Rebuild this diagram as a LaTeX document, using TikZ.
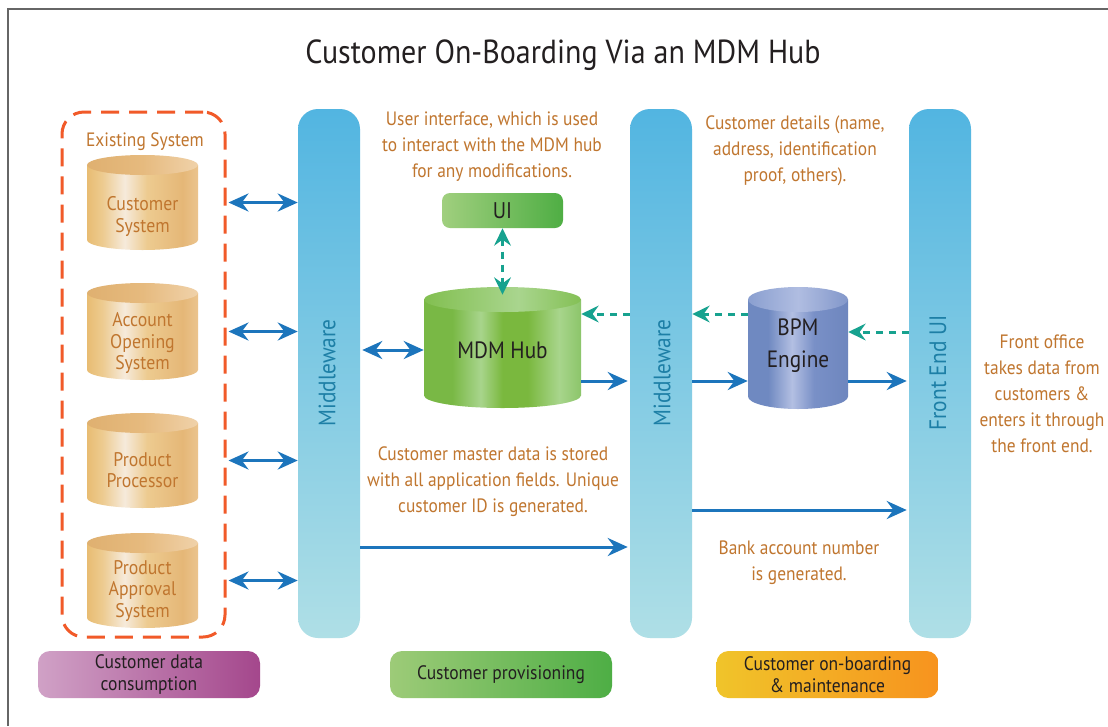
\documentclass[tikz,border=0pt]{standalone}
\usepackage{fontspec}
\setmainfont{PT Sans}[FakeStretch=0.9]
\usetikzlibrary{arrows.meta}
\definecolor{txtbrown}{HTML}{C0762F}
\definecolor{txtdark}{HTML}{231F20}
\definecolor{bartext}{HTML}{1D7FA6}
\definecolor{barTop}{HTML}{52B5E1}
\definecolor{barBot}{HTML}{AFDFE6}
\definecolor{arrBlue}{HTML}{1C75BC}
\definecolor{arrTeal}{HTML}{17A28F}
\definecolor{dashOrange}{HTML}{F15A29}
\definecolor{frameGray}{HTML}{666666}
\definecolor{tanA}{HTML}{E8BC72}
\definecolor{tanB}{HTML}{EDCB90}
\definecolor{tanHi}{HTML}{F6EADB}
\definecolor{tanC}{HTML}{E5B777}
\definecolor{tanD}{HTML}{EBC48E}
\definecolor{tanTopA}{HTML}{DFB070}
\definecolor{tanTopB}{HTML}{E6BA7E}
\definecolor{tanTopC}{HTML}{F0D2AA}
\definecolor{grnA}{HTML}{79B845}
\definecolor{grnHi}{HTML}{A8D58C}
\definecolor{grnB}{HTML}{7AB83E}
\definecolor{grnC}{HTML}{8CC56A}
\definecolor{grnTopA}{HTML}{82BF50}
\definecolor{grnTopB}{HTML}{A9D58E}
\definecolor{grnTopC}{HTML}{84C055}
\definecolor{bpmA}{HTML}{6F89C1}
\definecolor{bpmHi}{HTML}{B3BFE2}
\definecolor{bpmB}{HTML}{7990C7}
\definecolor{bpmC}{HTML}{6E86BE}
\definecolor{bpmTopA}{HTML}{8A9FD0}
\definecolor{bpmTopB}{HTML}{B0BDE1}
\definecolor{bpmTopC}{HTML}{8297CA}
\definecolor{uiL}{HTML}{A0CF7E}
\definecolor{uiR}{HTML}{4FAE44}
\definecolor{purL}{HTML}{D0A1C6}
\definecolor{purR}{HTML}{A4478C}
\definecolor{grL}{HTML}{9DCB78}
\definecolor{grR}{HTML}{4EAE45}
\definecolor{orL}{HTML}{F0C42A}
\definecolor{orM}{HTML}{EFB71A}
\definecolor{orR}{HTML}{F7931E}

\pgfdeclarehorizontalshading{tanbody}{100bp}{color(0bp)=(tanA); color(25bp)=(tanA); color(32bp)=(tanB); color(42bp)=(tanHi); color(52bp)=(tanB); color(68bp)=(tanC); color(75bp)=(tanD); color(100bp)=(tanD)}
\pgfdeclarehorizontalshading{tantop}{100bp}{color(0bp)=(tanTopA); color(25bp)=(tanTopA); color(50bp)=(tanTopB); color(75bp)=(tanTopC); color(100bp)=(tanTopC)}
\pgfdeclarehorizontalshading{grnbody}{100bp}{color(0bp)=(grnA); color(25bp)=(grnA); color(34bp)=(grnA); color(43bp)=(grnHi); color(50bp)=(grnB); color(58bp)=(grnB); color(68bp)=(grnHi); color(75bp)=(grnC); color(100bp)=(grnC)}
\pgfdeclarehorizontalshading{grntop}{100bp}{color(0bp)=(grnTopA); color(25bp)=(grnTopA); color(55bp)=(grnTopB); color(75bp)=(grnTopC); color(100bp)=(grnTopC)}
\pgfdeclarehorizontalshading{bpmbody}{100bp}{color(0bp)=(bpmA); color(25bp)=(bpmA); color(35bp)=(bpmA); color(47bp)=(bpmHi); color(58bp)=(bpmB); color(75bp)=(bpmC); color(100bp)=(bpmC)}
\pgfdeclarehorizontalshading{bpmtop}{100bp}{color(0bp)=(bpmTopA); color(25bp)=(bpmTopA); color(50bp)=(bpmTopB); color(75bp)=(bpmTopC); color(100bp)=(bpmTopC)}

% cylinder drawing: #1 cx, #2 top, #3 bottom, #4 half width (px), #5 ry (px), #6 shading prefix
\newcommand\cylshape[6]{%
  \pgfmathsetmacro\cylA{#4*0.75}%
  \pgfmathsetmacro\cylB{#5*0.75}%
  \shade[shading=#6body] (#1-#4,#2+#5) -- (#1-#4,#3-#5)
     arc[start angle=180,end angle=360,x radius=\cylA pt,y radius=\cylB pt] -- (#1+#4,#2+#5) -- cycle;
  \shade[shading=#6top] (#1,#2+#5) ellipse[x radius=\cylA pt,y radius=\cylB pt];
}

\tikzset{
  note/.style={text=txtbrown, align=center, inner sep=0pt, font=\fontsize{14.5}{19.5}\selectfont},
  cyltext/.style={text=txtbrown, align=center, inner sep=0pt, font=\fontsize{14.8}{15.9}\selectfont},
  cylnode/.style={rectangle, draw=none, inner sep=0pt},
  bar/.style={rectangle, rounded corners=15pt, top color=barTop, bottom color=barBot, draw=none,
    minimum width=46.5pt, minimum height=396.75pt, inner sep=0pt},
  bartxt/.style={rotate=90, text=bartext, inner sep=0pt, font=\fontsize{17.8}{20}\selectfont},
  catbox/.style={rectangle, rounded corners=9pt, draw=none, minimum width=166.5pt, minimum height=35.25pt,
    inner sep=0pt, align=center, text=txtdark, font=\fontsize{14.6}{16.5}\selectfont},
  bluearr/.style={draw=arrBlue, line width=2.25pt, -{Stealth[length=15pt,width=13.5pt,inset=5pt]}},
  blueboth/.style={draw=arrBlue, line width=2.25pt, {Stealth[length=15pt,width=13.5pt,inset=5pt]}-{Stealth[length=15pt,width=13.5pt,inset=5pt]}},
  tealarr/.style={draw=arrTeal, line width=2.25pt, dash pattern=on 5.25pt off 4.5pt, -{Stealth[length=13pt,width=12.5pt,inset=4.5pt]}},
  tealboth/.style={draw=arrTeal, line width=2.25pt, dash pattern=on 5.25pt off 4.5pt, {Stealth[length=13pt,width=12.5pt,inset=4.5pt]}-{Stealth[length=13pt,width=12.5pt,inset=4.5pt]}},
}

\begin{document}
\begin{tikzpicture}[x=0.75pt,y=-0.75pt]
\useasboundingbox (0,0) rectangle (1108,726);
\fill[white] (0,0) rectangle (1108,726);
% frame
\draw[frameGray, line width=1.5pt] (8,726) -- (8,9) -- (1108,9);

% title
\node[text=txtdark, inner sep=0pt, font=\fontsize{25}{30}\selectfont] (title) at (563,55) {Customer On-Boarding Via an MDM Hub};

% existing system dashed group
\node[rectangle, draw=dashOrange, line width=2.25pt, dash pattern=on 13.5pt off 7.5pt, rounded corners=16.5pt,
  minimum width=122.25pt, minimum height=393.75pt, inner sep=0pt] (exist) at (143.5,374.5) {};
\node[note] (existlbl) at (145,142) {Existing System};

% tan cylinders
\cylshape{142.5}{155}{250}{55.5}{10}{tan}
\node[cylnode, minimum width=83.25pt, minimum height=71.25pt] (cs) at (142.5,202.5) {};
\node[cyltext] (cstxt) at (142.5,216.5) {Customer\\System};

\cylshape{142.5}{283}{380}{55.5}{10}{tan}
\node[cylnode, minimum width=83.25pt, minimum height=72.75pt] (ao) at (142.5,331.5) {};
\node[cyltext] (aotxt) at (142.5,343) {Account\\Opening\\System};

\cylshape{142.5}{413}{508}{55.5}{10}{tan}
\node[cylnode, minimum width=83.25pt, minimum height=71.25pt] (pp) at (142.5,460.5) {};
\node[cyltext] (pptxt) at (142.5,470) {Product\\Processor};

\cylshape{142.5}{533}{628}{55.5}{10}{tan}
\node[cylnode, minimum width=83.25pt, minimum height=71.25pt] (pa) at (142.5,580.5) {};
\node[cyltext] (patxt) at (142.5,591) {Product\\Approval\\System};

% bars
\node[bar] (mw1) at (329,373.5) {};
\node[bartxt] (mw1txt) at (327,373) {Middleware};
\node[bar] (mw2) at (661,373.5) {};
\node[bartxt] (mw2txt) at (662,373) {Middleware};
\node[bar] (fe) at (940,373.5) {};
\node[bartxt] (fetxt) at (938,373) {Front End UI};

% UI box
\node[rectangle, rounded corners=6pt, left color=uiL, right color=uiR, minimum width=90.75pt, minimum height=26.25pt,
  inner sep=0pt, text=txtdark, font=\fontsize{17}{20}\selectfont] (ui) at (502.5,210.5) {UI};

% MDM hub cylinder
\cylshape{502.5}{287}{408}{78.5}{12.5}{grn}
\node[cylnode, minimum width=117.75pt, minimum height=90.75pt] (mdm) at (502.5,347.5) {};
\node[text=txtdark, inner sep=0pt, font=\fontsize{17.7}{21}\selectfont] (mdmtxt) at (502.5,350) {MDM Hub};

% BPM engine cylinder
\cylshape{798}{287}{409}{50}{12.5}{bpm}
\node[cylnode, minimum width=75pt, minimum height=91.5pt] (bpm) at (798,348) {};
\node[text=txtdark, inner sep=0pt, align=center, font=\fontsize{17.7}{24}\selectfont] (bpmtxt) at (798,346) {BPM\\Engine};

% notes
\node[note] (n1) at (492,147) {User interface, which is used\\to interact with the MDM hub\\for any modifications.};
\node[note] (n2) at (795,151) {Customer details (name,\\address, identification\\proof, others).};
\node[note] (n3) at (1042,394) {Front office\\takes data from\\customers \&\\enters it through\\the front end.};
\node[note] (n4) at (493,482) {Customer master data is stored\\with all application fields. Unique\\customer ID is generated.};
\node[note] (n5) at (799,563) {Bank account number\\is generated.};

% category boxes
\node[catbox, left color=purL, right color=purR] (cat1) at (149,674.5) {Customer data\\consumption};
\node[catbox, left color=grL, right color=grR] (cat2) at (501,674.5) {Customer provisioning};
\node[catbox, left color=orL, middle color=orM, right color=orR] (cat3) at (827.5,674.5) {Customer on-boarding\\\& maintenance};

% row helper coordinates
\coordinate (r1) at (0,314);
\coordinate (r2) at (0,332);
\coordinate (r3) at (0,381);
\coordinate (r4) at (0,510);
\coordinate (r5) at (0,547);

% connectors: existing systems <-> middleware
\draw[blueboth] ([xshift=1.5pt]exist.east |- cs) -- (mw1.west |- cs);
\draw[blueboth] ([xshift=1.5pt]exist.east |- ao) -- (mw1.west |- ao);
\draw[blueboth] ([xshift=1.5pt]exist.east |- pp) -- (mw1.west |- pp);
\draw[blueboth] ([xshift=1.5pt]exist.east |- pa) -- (mw1.west |- pa);

% middleware <-> MDM
\draw[blueboth] ([xshift=1.5pt]mw1.east |- mdmtxt) -- (mdm.west |- mdmtxt);
% UI <-> MDM
\draw[tealboth] (ui.south) -- ([yshift=-6pt]mdm.north);
% teal dashed
\draw[tealarr] (mw2.west |- r1) -- (mdm.east |- r1);
\draw[tealarr] (bpm.west |- r1) -- (mw2.east |- r1);
\draw[tealarr] (fe.west |- r2) -- (bpm.east |- r2);
% blue
\draw[bluearr] (mdm.east |- r3) -- ([xshift=-1.5pt]mw2.west |- r3);
\draw[bluearr] (mw2.east |- r3) -- (bpm.west |- r3);
\draw[bluearr] (bpm.east |- r3) -- ([xshift=-1.5pt]fe.west |- r3);
\draw[bluearr] (mw2.east |- r4) -- ([xshift=-1.5pt]fe.west |- r4);
\draw[bluearr] (mw1.east |- r5) -- ([xshift=-1.5pt]mw2.west |- r5);
\end{tikzpicture}
\end{document}
